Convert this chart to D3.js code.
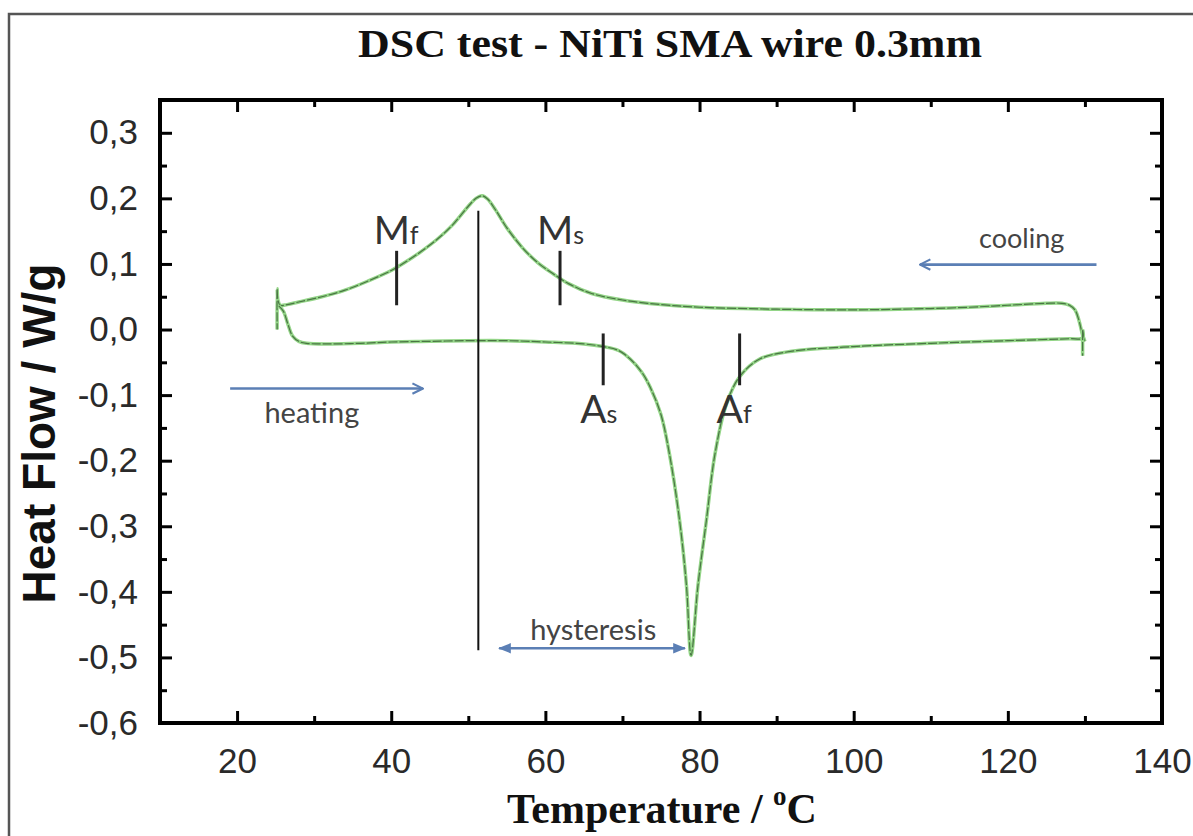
<!DOCTYPE html>
<html>
<head>
<meta charset="utf-8">
<script src="https://cdn.jsdelivr.net/npm/d3@7"></script>
<style>
  body { margin: 0; background: #fff; }
  svg { display: block; }
</style>
</head>
<body>
<svg id="dsc" width="1193" height="836"></svg>
<script>
// data (temperature in °C, heat flow in W/g)
var coolT = [130, 129.6, 129.2, 128.7, 128, 127, 125, 120, 115, 110, 100, 90, 80, 75, 70, 66, 63, 61, 59, 57, 55, 53.5, 52.5, 51.8, 51, 50, 48, 46, 44, 42, 40, 37, 34, 31, 28, 26.5, 25.6, 25.3, 25.2, 25.2];
var coolHF = [-0.018, -0.004, 0.015, 0.03, 0.037, 0.04, 0.04, 0.037, 0.034, 0.032, 0.03, 0.031, 0.034, 0.038, 0.045, 0.055, 0.07, 0.085, 0.102, 0.125, 0.155, 0.183, 0.199, 0.204, 0.2, 0.188, 0.16, 0.138, 0.12, 0.104, 0.09, 0.074, 0.06, 0.05, 0.042, 0.038, 0.037, 0.045, 0.062, 0.0];

var heatT = [25.4, 26, 26.6, 27.2, 28, 29, 32, 36, 40, 45, 50, 55, 60, 65, 67.5, 69.5, 71, 72.5, 73.6, 75, 76.1, 77.4, 78.3, 78.9, 79.8, 80.9, 82, 83.5, 85.2, 87.8, 92, 100, 110, 120, 128, 129.7, 129.7, 129.7];
var heatHF = [0.036, 0.028, 0.008, -0.01, -0.018, -0.021, -0.022, -0.021, -0.019, -0.018, -0.017, -0.017, -0.019, -0.022, -0.026, -0.032, -0.045, -0.065, -0.088, -0.13, -0.19, -0.29, -0.39, -0.497, -0.39, -0.29, -0.19, -0.113, -0.072, -0.045, -0.033, -0.026, -0.021, -0.017, -0.014, -0.013, 0.0, -0.04];

var xTicks = [20, 40, 60, 80, 100, 120, 140];
var xMinor = [10, 30, 50, 70, 90, 110, 130];
var yTicks = [-0.6, -0.5, -0.4, -0.3, -0.2, -0.1, 0.0, 0.1, 0.2, 0.3];
var yMinor = [-0.55, -0.45, -0.35, -0.25, -0.15, -0.05, 0.05, 0.15, 0.25, 0.35];

// transformation markers: name, subscript, temperature, tick top, tick bottom, label placement
var markNames = ["M", "M", "A", "A"];
var markSubs = ["f", "s", "s", "f"];
var markT = [40.7, 61.9, 67.5, 85.2];
var markTop = [0.12, 0.12, -0.006, -0.006];
var markBottom = [0.037, 0.037, -0.085, -0.085];
var markLabelHF = [0.13, 0.13, -0.143, -0.143];

// hysteresis line
var hystT = 51.3, hystTop = 0.181, hystBottom = -0.489;

// arrows: from T, to T, heat flow, double-headed
var arrowFrom = [131.5, 19.1, 54.0];
var arrowTo = [108.6, 44.1, 78.1];
var arrowHF = [0.099, -0.09, -0.486];
var arrowBoth = [false, false, true];
var noteText = ["cooling", "heating", "hysteresis"];
var noteT = [121.8, 29.7, 66.2];
var noteHF = [0.125, -0.142, -0.474];

var svg = d3.select("#dsc"),
    margin = {top: 100, right: 31, bottom: 113, left: 160},
    width = +svg.attr("width") - margin.left - margin.right,
    height = +svg.attr("height") - margin.top - margin.bottom;

// outer frame
svg.append("rect")
    .attr("x", 9).attr("y", 14)
    .attr("width", 1200).attr("height", 900)
    .attr("fill", "none")
    .attr("stroke", "#555")
    .attr("stroke-width", 2.5);

svg.append("text")
    .attr("x", 670).attr("y", 57)
    .attr("text-anchor", "middle")
    .attr("font-family", "'Liberation Serif', 'Times New Roman', serif")
    .attr("font-weight", "bold")
    .attr("font-size", 40)
    .attr("textLength", 624)
    .attr("lengthAdjust", "spacingAndGlyphs")
    .attr("fill", "#111")
    .text("DSC test - NiTi SMA wire 0.3mm");

var g = svg.append("g").attr("transform", "translate(" + margin.left + "," + margin.top + ")");

var x = d3.scaleLinear().domain([10, 140]).range([0, width]);
var y = d3.scaleLinear().domain([-0.6, 0.35]).range([height, 0]);

var fmt = function(v) { return v.toFixed(1).replace(".", ","); };

function styleAxis(sel, labels) {
  sel.select(".domain").remove();
  sel.selectAll(".tick line").attr("stroke", "#000").attr("stroke-width", 3);
  sel.selectAll(".tick text")
    .attr("font-family", "'Liberation Sans', Arial, sans-serif")
    .attr("font-size", 35)
    .attr("fill", "#2a2a2a");
  if (!labels) sel.selectAll(".tick text").remove();
}

// major + minor ticks pointing inward on all four sides
g.append("g").attr("transform", "translate(0," + height + ")")
  .call(d3.axisBottom(x).tickValues(xTicks).tickSize(-12).tickPadding(25).tickFormat(d3.format("d")))
  .call(styleAxis, true);
g.append("g").attr("transform", "translate(0," + height + ")")
  .call(d3.axisBottom(x).tickValues(xMinor).tickSize(-7))
  .call(styleAxis, false);
g.append("g")
  .call(d3.axisTop(x).tickValues(xTicks).tickSize(-12))
  .call(styleAxis, false);
g.append("g")
  .call(d3.axisTop(x).tickValues(xMinor).tickSize(-7))
  .call(styleAxis, false);
g.append("g")
  .call(d3.axisLeft(y).tickValues(yTicks).tickSize(-12).tickPadding(22).tickFormat(fmt))
  .call(styleAxis, true);
g.append("g")
  .call(d3.axisLeft(y).tickValues(yMinor).tickSize(-7))
  .call(styleAxis, false);
g.append("g").attr("transform", "translate(" + width + ",0)")
  .call(d3.axisRight(y).tickValues(yTicks).tickSize(-12))
  .call(styleAxis, false);
g.append("g").attr("transform", "translate(" + width + ",0)")
  .call(d3.axisRight(y).tickValues(yMinor).tickSize(-7))
  .call(styleAxis, false);

g.append("rect")
    .attr("width", width).attr("height", height)
    .attr("fill", "none")
    .attr("stroke", "#000")
    .attr("stroke-width", 4);

// curves
var line = d3.line()
    .x(function(d) { return x(d[0]); })
    .y(function(d) { return y(d[1]); })
    .curve(d3.curveCatmullRom.alpha(0.5));

var cooling = coolT.map(function(t, i) { return [t, coolHF[i]]; });
var heating = heatT.map(function(t, i) { return [t, heatHF[i]]; });

[cooling, heating].forEach(function(data) {
  g.append("path").datum(data)
    .attr("d", line)
    .attr("fill", "none")
    .attr("stroke", "#94d588")
    .attr("stroke-width", 3.5);
  g.append("path").datum(data)
    .attr("d", line)
    .attr("fill", "none")
    .attr("stroke", "#4a7544")
    .attr("stroke-width", 1.2)
    .attr("stroke-dasharray", "9,2");
});

// hysteresis reference line
g.append("line")
    .attr("x1", x(hystT)).attr("x2", x(hystT))
    .attr("y1", y(hystTop)).attr("y2", y(hystBottom))
    .attr("stroke", "#111").attr("stroke-width", 2);

// transformation markers
var annoFont = "Lato, 'Open Sans', sans-serif";
markT.forEach(function(t, i) {
  g.append("line")
    .attr("x1", x(t)).attr("x2", x(t))
    .attr("y1", y(markTop[i])).attr("y2", y(markBottom[i]))
    .attr("stroke", "#222").attr("stroke-width", 3);
  var lbl = g.append("text")
    .attr("x", x(t) - 23).attr("y", y(markLabelHF[i]))
    .attr("font-family", annoFont)
    .attr("fill", "#333");
  lbl.append("tspan").attr("font-size", 39).text(markNames[i]);
  lbl.append("tspan").attr("font-size", 25).text(markSubs[i]);
});

// arrows
var defs = svg.append("defs");
defs.append("marker")
    .attr("id", "head")
    .attr("viewBox", "0 0 10 10")
    .attr("refX", 9).attr("refY", 5)
    .attr("markerWidth", 5).attr("markerHeight", 5)
    .attr("orient", "auto-start-reverse")
  .append("path")
    .attr("d", "M1,1 L9,5 L1,9")
    .attr("fill", "none")
    .attr("stroke", "#5b7fb5")
    .attr("stroke-width", 1.6);
defs.append("marker")
    .attr("id", "tri")
    .attr("viewBox", "0 0 10 10")
    .attr("refX", 9).attr("refY", 5)
    .attr("markerWidth", 5).attr("markerHeight", 5)
    .attr("orient", "auto-start-reverse")
  .append("path")
    .attr("d", "M0,1 L10,5 L0,9 Z")
    .attr("fill", "#5b7fb5");

arrowFrom.forEach(function(t, i) {
  var a = g.append("line")
    .attr("x1", x(t)).attr("x2", x(arrowTo[i]))
    .attr("y1", y(arrowHF[i])).attr("y2", y(arrowHF[i]))
    .attr("stroke", "#5b7fb5").attr("stroke-width", 2.6);
  if (arrowBoth[i]) {
    a.attr("marker-start", "url(#tri)").attr("marker-end", "url(#tri)");
  } else {
    a.attr("marker-end", "url(#head)");
  }
});

noteText.forEach(function(s, i) {
  g.append("text")
    .attr("x", x(noteT[i])).attr("y", y(noteHF[i]))
    .attr("text-anchor", "middle")
    .attr("font-family", annoFont)
    .attr("font-size", i === 0 ? 27 : 29)
    .attr("fill", "#444")
    .text(s);
});

// axis titles
svg.append("text")
    .attr("transform", "translate(55," + (margin.top + height / 2 + 22) + ") rotate(-90)")
    .attr("text-anchor", "middle")
    .attr("font-family", "'Liberation Sans', Arial, sans-serif")
    .attr("font-weight", "bold")
    .attr("font-size", 46)
    .attr("fill", "#111")
    .text("Heat Flow / W/g");

var xt = svg.append("text")
    .attr("x", 662).attr("y", 823)
    .attr("text-anchor", "middle")
    .attr("font-family", "'Liberation Serif', 'Times New Roman', serif")
    .attr("font-weight", "bold")
    .attr("font-size", 42)
    .attr("fill", "#111");
xt.append("tspan").text("Temperature / ");
xt.append("tspan").attr("font-size", 27).attr("dy", -18).text("o");
xt.append("tspan").attr("dy", 18).text("C");
</script>
</body>
</html>
